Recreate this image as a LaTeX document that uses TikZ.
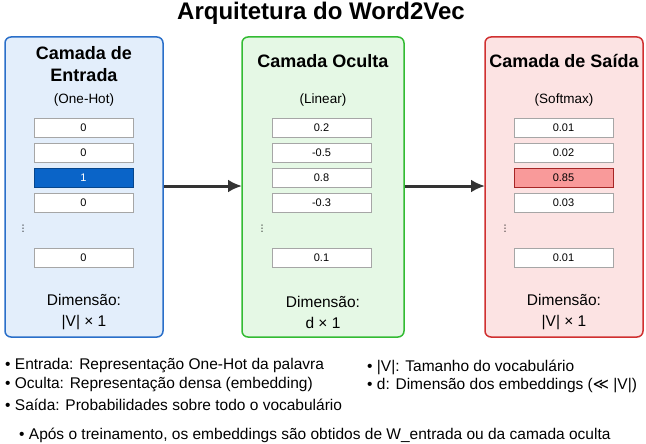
\documentclass[tikz,border=0pt]{standalone}
\usepackage{fontspec}
\setmainfont{Liberation Sans}
\newfontfamily\djv{DejaVu Sans}
\usetikzlibrary{arrows.meta}
\definecolor{bluefill}{HTML}{E3EEFB}\definecolor{blueline}{HTML}{2A6FC9}
\definecolor{greenfill}{HTML}{E5F8E5}\definecolor{greenline}{HTML}{33BB33}
\definecolor{redfill}{HTML}{FCE3E3}\definecolor{redline}{HTML}{D03030}
\definecolor{hotblue}{HTML}{0A64C8}\definecolor{hotred}{HTML}{F99A9A}
\definecolor{arr}{HTML}{333333}
\tikzset{
 panel/.style={rounded corners=6pt, line width=1.5pt},
 cell/.style={draw=gray!70, fill=white, minimum width=99pt, minimum height=19pt, inner sep=0pt, font=\fontsize{11}{13}\selectfont},
 ptitle/.style={font=\bfseries\fontsize{18}{22}\selectfont, align=center},
 sub/.style={font=\fontsize{13.5}{16}\selectfont},
 dots/.style={font=\djv\fontsize{9}{10}\selectfont, inner sep=0pt},
 dim/.style={font=\fontsize{15.5}{21}\selectfont, align=center},
 note/.style={font=\fontsize{15.5}{18}\selectfont, anchor=west, inner sep=0pt},
 big/.style={-{Latex[length=14pt,width=13pt]}, line width=3pt, draw=arr}
}
\begin{document}
\begin{tikzpicture}[x=1pt,y=-1pt]
\useasboundingbox (0,0) rectangle (646,444);
\node[font=\bfseries\fontsize{24}{28}\selectfont] (title) at (321,13) {Arquitetura do Word2Vec};
% panels
\draw[panel, draw=blueline, fill=bluefill] (5,37) rectangle (163,337);
\draw[panel, draw=greenline, fill=greenfill] (242,37) rectangle (404,337);
\draw[panel, draw=redline, fill=redfill] (485,37) rectangle (643,337);
\coordinate (lp) at (164,186); \coordinate (mpl) at (242,186);
\coordinate (mpr) at (405,186); \coordinate (rp) at (485,186);
% left
\node[ptitle] (lt) at (84,64) {Camada de\\Entrada};
\node[sub] (ls) at (84,100) {(One-Hot)};
\node[cell] (l1) at (83.5,127.5) {0};
\node[cell] (l2) at (83.5,152.5) {0};
\node[cell, fill=hotblue, draw=hotblue!70!black, text=white] (l3) at (83.5,177.5) {1};
\node[cell] (l4) at (83.5,202.5) {0};
\node[dots] (ld) at (23,229) {⋮};
\node[cell] (l5) at (83.5,257.5) {0};
\node[dim] (ldim) at (84,312) {Dimensão:\\|V| × 1};
% middle
\node[ptitle] (mt) at (323,61) {Camada Oculta};
\node[sub] (ms) at (323,100) {(Linear)};
\node[cell] (m1) at (321.5,127.5) {0.2};
\node[cell] (m2) at (321.5,152.5) {-0.5};
\node[cell] (m3) at (321.5,177.5) {0.8};
\node[cell] (m4) at (321.5,202.5) {-0.3};
\node[dots] (md) at (262,229) {⋮};
\node[cell] (m5) at (321.5,257.5) {0.1};
\node[dim] (mdim) at (323,312) {Dimensão:\\d × 1};
% right
\node[ptitle] (rt) at (564,61) {Camada de Saída};
\node[sub] (rs) at (564,100) {(Softmax)};
\node[cell] (r1) at (563.5,127.5) {0.01};
\node[cell] (r2) at (563.5,152.5) {0.02};
\node[cell, fill=hotred, draw=redline!80!black] (r3) at (563.5,177.5) {0.85};
\node[cell] (r4) at (563.5,202.5) {0.03};
\node[dots] (rd) at (505,229) {⋮};
\node[cell] (r5) at (563.5,257.5) {0.01};
\node[dim] (rdim) at (564,312) {Dimensão:\\|V| × 1};
% arrows
\draw[big] (lp) -- (mpl);
\draw[big] (mpr) -- (rp);
% notes
\node[note] (n1) at (5,366) {• Entrada: Representação One-Hot da palavra};
\node[note] (n2) at (5,385) {• Oculta: Representação densa (embedding)};
\node[note] (n3) at (5,405) {• Saída: Probabilidades sobre todo o vocabulário};
\node[note] (n4) at (367,367) {• |V|: Tamanho do vocabulário};
\node[note] (n5) at (367,386) {• d: Dimensão dos embeddings ({\djv ≪} |V|)};
\node[note] (n6) at (19,435) {• Após o treinamento, os embeddings são obtidos de W\_entrada ou da camada oculta};
\end{tikzpicture}
\end{document}
